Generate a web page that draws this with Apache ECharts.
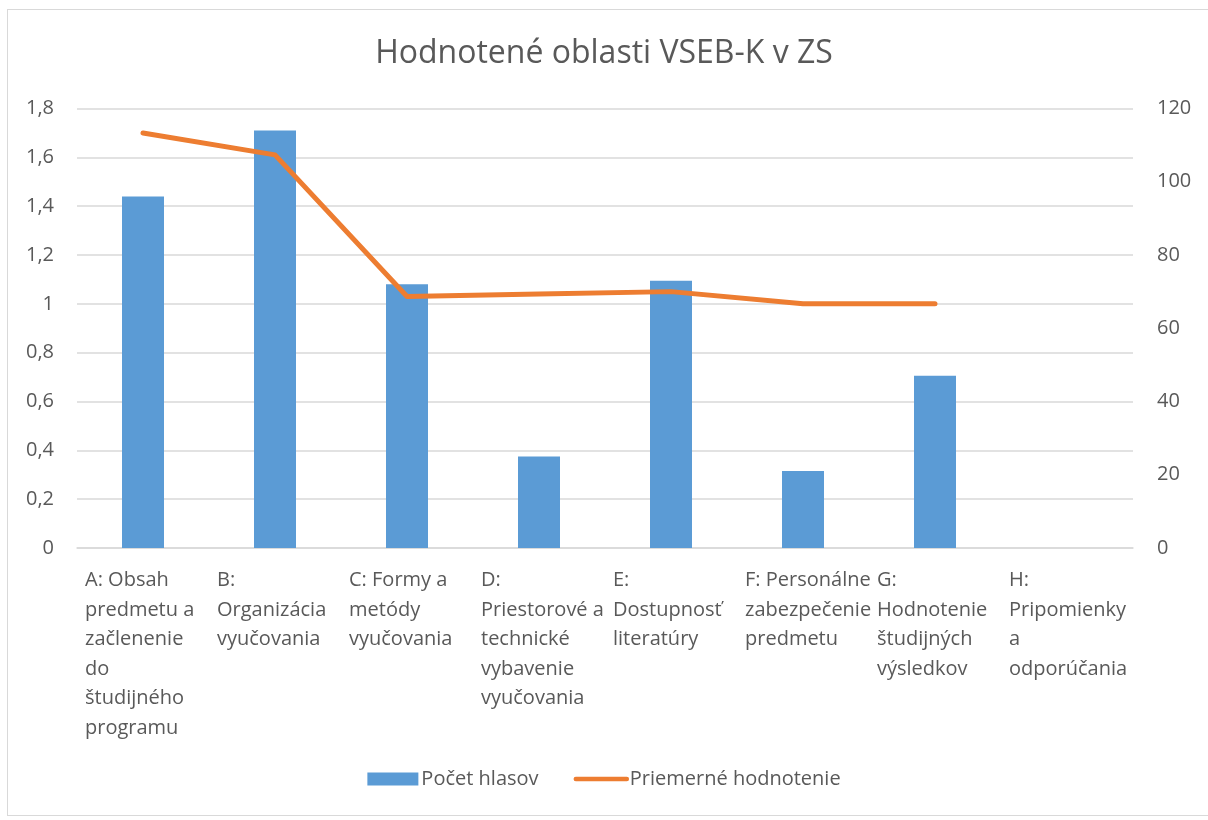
<!DOCTYPE html>
<html>
<head>
<meta charset="utf-8">
<script src="https://cdn.jsdelivr.net/npm/echarts@6/dist/echarts.min.js"></script>
<style>
  html, body { margin: 0; padding: 0; background: #fff; }
  #frame { position: absolute; left: 7px; top: 9px; width: 1210px; height: 807px; border: 1.5px solid #d9d9d9; box-sizing: border-box; }
  #chart { position: absolute; left: 0; top: 0; width: 1208px; height: 820px; }
</style>
</head>
<body>
<div id="frame"></div>
<div id="chart"></div>
<script>
const categories = [
  'A: Obsah\npredmetu a\nzačlenenie\ndo\nštudijného\nprogramu',
  'B:\nOrganizácia\nvyučovania',
  'C: Formy a\nmetódy\nvyučovania',
  'D:\nPriestorové a\ntechnické\nvybavenie\nvyučovania',
  'E:\nDostupnosť\nliteratúry',
  'F: Personálne\nzabezpečenie\npredmetu',
  'G:\nHodnotenie\nštudijných\nvýsledkov',
  'H:\nPripomienky\na\nodporúčania'
];
const votes = [96, 114, 72, 25, 73, 21, 47, 0];
const avgRating = [1.7, 1.61, 1.03, 1.04, 1.05, 1.0, 1.0, null];
const leftTicks = { min: 0, max: 1.8, interval: 0.2 };
const rightTicks = { min: 0, max: 120, interval: 20 };

const font = '"Open Sans", sans-serif';
const textColor = '#595959';
const gridColor = '#d9d9d9';
const barColor = '#5b9bd5';
const lineColor = '#ed7d31';

const option = {
  animation: false,
  textStyle: { fontFamily: font, color: textColor },
  title: {
    text: 'Hodnotené oblasti VSEB-K v ZS',
    left: 'center',
    top: 33,
    textStyle: { fontFamily: font, fontSize: 32, fontWeight: 'normal', color: textColor }
  },
  legend: {
    bottom: 26,
    left: 'center',
    itemGap: 35,
    itemWidth: 51,
    itemHeight: 13,
    textStyle: { fontFamily: font, fontSize: 20, color: textColor, padding: [0, 0, 0, -2] },
    data: [
      { name: 'Počet hlasov', icon: 'rect' },
      {
        name: 'Priemerné hodnotenie',
        itemStyle: { opacity: 0 },
        lineStyle: { width: 4.5, cap: 'round', color: lineColor }
      }
    ]
  },
  grid: { left: 77, right: 75, top: 108.5, bottom: 272, containLabel: false },
  xAxis: {
    type: 'category',
    data: categories,
    axisTick: { show: false },
    axisLine: { lineStyle: { color: gridColor, width: 1.5 } },
    axisLabel: {
      interval: 0,
      margin: 18,
      align: 'center',
      formatter: v => '{t|' + v + '}',
      rich: {
        t: { width: 116, align: 'left', fontFamily: font, fontSize: 20, lineHeight: 29.5, color: textColor }
      }
    }
  },
  yAxis: [
    {
      type: 'value',
      min: leftTicks.min,
      max: leftTicks.max,
      interval: leftTicks.interval,
      axisLine: { show: false },
      axisTick: { show: false },
      splitLine: { lineStyle: { color: gridColor, width: 1.5 } },
      axisLabel: {
        margin: 23,
        fontFamily: font,
        fontSize: 20,
        color: textColor,
        formatter: v => String(Math.round(v * 10) / 10).replace('.', ',')
      }
    },
    {
      type: 'value',
      min: rightTicks.min,
      max: rightTicks.max,
      interval: rightTicks.interval,
      axisLine: { show: false },
      axisTick: { show: false },
      splitLine: { show: false },
      axisLabel: { margin: 24, fontFamily: font, fontSize: 20, color: textColor }
    }
  ],
  series: [
    {
      name: 'Počet hlasov',
      type: 'bar',
      yAxisIndex: 1,
      barWidth: 42,
      data: votes,
      itemStyle: { color: barColor }
    },
    {
      name: 'Priemerné hodnotenie',
      type: 'line',
      yAxisIndex: 0,
      data: avgRating,
      symbol: 'none',
      connectNulls: false,
      lineStyle: { color: lineColor, width: 5, cap: 'round', join: 'round' },
      itemStyle: { color: lineColor }
    }
  ]
};

const chart = echarts.init(document.getElementById('chart'));
chart.setOption(option);
</script>
</body>
</html>
